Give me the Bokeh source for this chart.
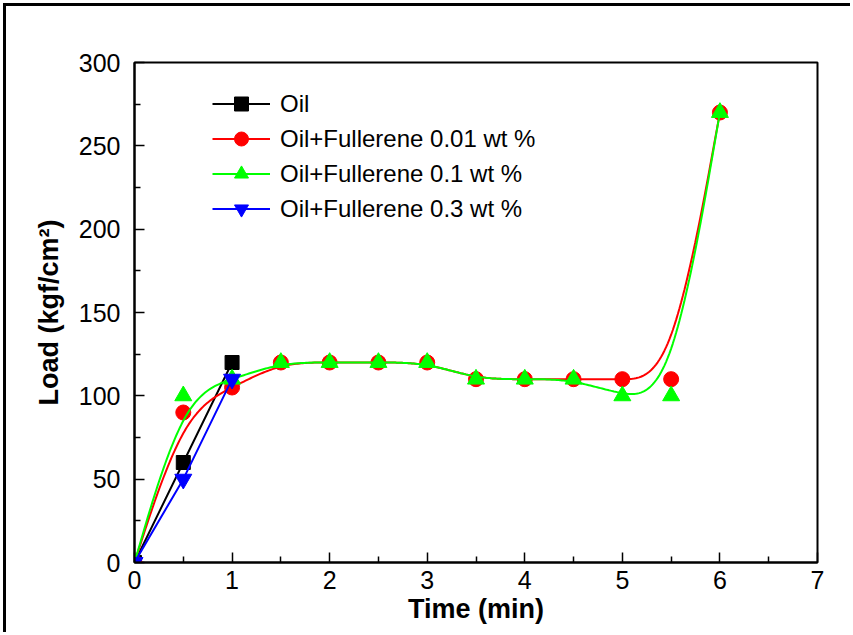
import numpy as np
from bokeh.plotting import figure
from bokeh.models import Legend, LegendItem, Range1d, FixedTicker
from bokeh.embed import file_html
from bokeh.resources import INLINE

# ---- data ----
time_oil = [0, 0.5, 1]
load_oil = [0, 60, 120]

time_f03 = [0, 0.5, 1]
load_f03 = [0, 50, 110]

time_full = [0, 0.5, 1, 1.5, 2, 2.5, 3, 3.5, 4, 4.5, 5, 5.5, 6]
load_f001 = [0, 90, 105, 120, 120, 120, 120, 110, 110, 110, 110, 110, 270]
load_f01 = [0, 100, 110, 120, 120, 120, 120, 110, 110, 110, 100, 100, 270]

x_ticks = [0, 1, 2, 3, 4, 5, 6, 7]
y_ticks = [0, 50, 100, 150, 200, 250, 300]

labels = ["Oil", "Oil+Fullerene 0.01 wt %", "Oil+Fullerene 0.1 wt %", "Oil+Fullerene 0.3 wt %"]
colors = ["black", "#ff0000", "#00ff00", "#0000ff"]

FONT = "Liberation Sans"


def smooth_curve(xs, ys, n=30):
    """Clamped uniform cubic B-spline using the data points as control points."""
    px = [xs[0]] * 2 + list(xs) + [xs[-1]] * 2
    py = [ys[0]] * 2 + list(ys) + [ys[-1]] * 2
    t = np.linspace(0, 1, n)
    b0 = (1 - t) ** 3 / 6
    b1 = (3 * t ** 3 - 6 * t ** 2 + 4) / 6
    b2 = (-3 * t ** 3 + 3 * t ** 2 + 3 * t + 1) / 6
    b3 = t ** 3 / 6
    cx, cy = [], []
    for i in range(len(px) - 3):
        cx.extend(b0 * px[i] + b1 * px[i + 1] + b2 * px[i + 2] + b3 * px[i + 3])
        cy.extend(b0 * py[i] + b1 * py[i + 1] + b2 * py[i + 2] + b3 * py[i + 3])
    return cx, cy


p = figure(width=847, height=629, output_backend="svg", toolbar_location=None,
           x_range=Range1d(x_ticks[0], x_ticks[-1]), y_range=Range1d(y_ticks[0], y_ticks[-1]),
           min_border_left=128, min_border_right=36, min_border_top=56, min_border_bottom=73)
p.styles = {"border-left": "3px solid black", "border-top": "3px solid black",
            "margin-left": "3px", "margin-top": "3px"}

p.xgrid.visible = False
p.ygrid.visible = False
p.outline_line_color = "black"
p.outline_line_width = 2
p.outline_line_alpha = 1
p.background_fill_color = "white"
p.border_fill_color = "white"

x_minor = [a + (b - a) / 2 for a, b in zip(x_ticks[:-1], x_ticks[1:])]
y_minor = [a + (b - a) / 2 for a, b in zip(y_ticks[:-1], y_ticks[1:])]
p.xaxis.ticker = FixedTicker(ticks=x_ticks, minor_ticks=x_minor)
p.yaxis.ticker = FixedTicker(ticks=y_ticks, minor_ticks=y_minor)

for ax in (p.xaxis[0], p.yaxis[0]):
    ax.axis_line_width = 2
    ax.axis_line_color = "black"
    ax.major_tick_line_width = 1.5
    ax.major_tick_line_color = "black"
    ax.minor_tick_line_width = 1.5
    ax.minor_tick_line_color = "black"
    ax.major_tick_in = 10
    ax.major_tick_out = 0
    ax.minor_tick_in = 6
    ax.minor_tick_out = 0
    ax.major_label_text_font = FONT
    ax.major_label_text_font_size = "25px"
    ax.major_label_text_color = "black"
    ax.axis_label_text_font = FONT
    ax.axis_label_text_font_size = "27px"
    ax.axis_label_text_font_style = "bold"
    ax.axis_label_text_color = "black"

p.xaxis.axis_label = "Time (min)"
p.yaxis.axis_label = "Load (kgf/cm\u00b2)"
p.xaxis.major_label_standoff = 8
p.yaxis.major_label_standoff = 14
p.xaxis.axis_label_standoff = 2
p.yaxis.axis_label_standoff = 12

items = []

# Oil (straight lines)
l0 = p.line(time_oil, load_oil, line_color=colors[0], line_width=2)
s0 = p.scatter(time_oil, load_oil, marker="square", size=14, fill_color=colors[0], line_color=colors[0])
items.append(LegendItem(label=labels[0], renderers=[l0, s0]))

# 0.01 wt % (smooth curve)
cx, cy = smooth_curve(time_full, load_f001)
l1 = p.line(cx, cy, line_color=colors[1], line_width=2)
s1 = p.scatter(time_full, load_f001, marker="circle", size=15, fill_color=colors[1], line_color=colors[1])
items.append(LegendItem(label=labels[1], renderers=[l1, s1]))

# 0.1 wt % (smooth curve)
cx, cy = smooth_curve(time_full, load_f01)
l2 = p.line(cx, cy, line_color=colors[2], line_width=2)
s2 = p.scatter(time_full, load_f01, marker="triangle", size=17, fill_color=colors[2], line_color=colors[2])
items.append(LegendItem(label=labels[2], renderers=[l2, s2]))

# 0.3 wt % (straight lines)
l3 = p.line(time_f03, load_f03, line_color=colors[3], line_width=2)
s3 = p.scatter(time_f03, load_f03, marker="inverted_triangle", size=17, fill_color=colors[3], line_color=colors[3])
items.append(LegendItem(label=labels[3], renderers=[l3, s3]))

legend = Legend(items=items, location=(78, 336), orientation="vertical",
                label_text_font=FONT, label_text_font_size="24px", label_text_color="black",
                glyph_width=58, glyph_height=35, spacing=0, padding=0, margin=0,
                label_standoff=10, border_line_alpha=0, background_fill_alpha=0)
p.add_layout(legend)

open("out.html", "w").write(file_html(p, INLINE))
